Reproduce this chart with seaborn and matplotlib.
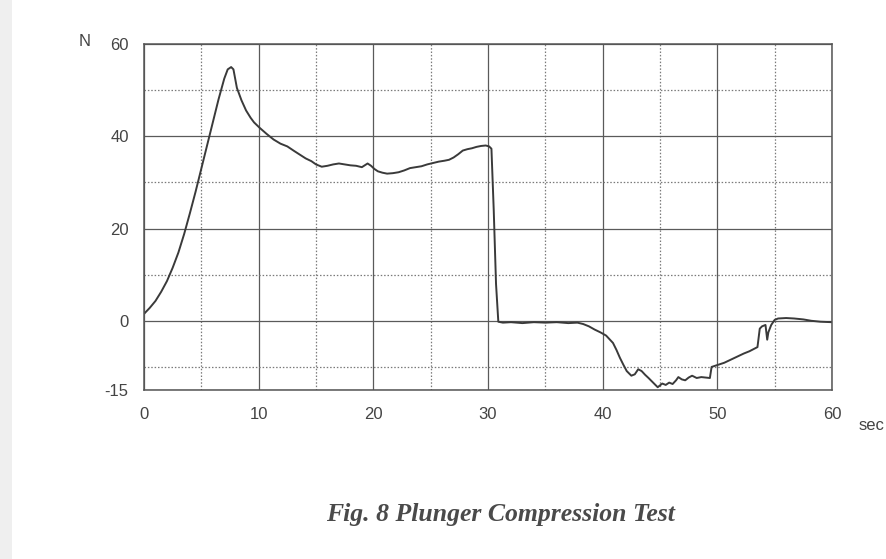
import matplotlib
matplotlib.use("Agg")
import matplotlib.pyplot as plt
import seaborn as sns
import pandas as pd
from matplotlib.patches import Rectangle

# ---- data ----
time_s = [0.0, 0.5, 1.0, 1.5, 2.0, 2.5, 3.0, 3.5, 4.0, 4.5, 5.0, 5.5, 6.0, 6.5,
          7.0, 7.3, 7.6, 7.8, 8.1, 8.5, 8.9, 9.3, 9.6, 10.1, 10.7, 11.3, 11.9,
          12.5, 13.1, 13.6, 14.1, 14.6, 15.0, 15.5, 16.0, 16.5, 17.0, 17.5,
          18.0, 18.5, 19.0, 19.5, 19.8, 20.1, 20.4, 20.8, 21.2, 21.7, 22.2,
          22.7, 23.2, 23.7, 24.2, 24.7, 25.2, 25.7, 26.2, 26.6, 27.0, 27.4,
          27.8, 28.2, 28.6, 29.0, 29.4, 29.8, 30.1, 30.3, 30.5, 30.7, 30.9,
          31.3, 32.0, 33.0, 34.0, 35.0, 36.0, 37.0, 37.8, 38.3, 38.8, 39.3,
          39.8, 40.3, 40.9, 41.2, 41.5, 41.8, 42.1, 42.5, 42.8, 43.1, 43.4,
          43.7, 44.0, 44.4, 44.8, 45.2, 45.5, 45.8, 46.1, 46.4, 46.6, 46.9,
          47.2, 47.5, 47.8, 48.2, 48.6, 49.0, 49.35, 49.5, 50.0, 50.6, 51.2,
          51.8, 52.3, 52.8, 53.2, 53.5, 53.7, 53.9, 54.2, 54.35, 54.45, 54.7,
          55.0, 55.3, 56.0, 56.7, 57.5, 58.2, 59.0, 60.0]
force_n = [1.5, 2.8, 4.3, 6.3, 8.6, 11.5, 14.8, 18.8, 23.3, 28.0, 33.0, 38.0,
           43.0, 48.0, 52.5, 54.5, 55.0, 54.5, 50.5, 47.8, 45.6, 44.0, 43.0,
           41.8, 40.5, 39.3, 38.4, 37.8, 36.8, 36.0, 35.2, 34.6, 33.9, 33.4,
           33.6, 33.9, 34.1, 33.9, 33.7, 33.6, 33.3, 34.1, 33.6, 32.9, 32.4,
           32.1, 31.9, 32.0, 32.2, 32.6, 33.1, 33.3, 33.5, 33.9, 34.2, 34.5,
           34.7, 34.9, 35.4, 36.1, 36.9, 37.2, 37.4, 37.7, 37.9, 38.0, 37.8,
           37.3, 24.0, 8.0, -0.2, -0.4, -0.3, -0.5, -0.3, -0.4, -0.3, -0.5,
           -0.4, -0.7, -1.2, -1.9, -2.5, -3.2, -4.8, -6.3, -8.0, -9.5, -10.9,
           -11.9, -11.6, -10.5, -10.9, -11.7, -12.4, -13.4, -14.4, -13.6,
           -13.9, -13.4, -13.7, -12.9, -12.2, -12.7, -12.9, -12.3, -11.9, -12.4,
           -12.2, -12.3, -12.4, -10.0, -9.6, -9.1, -8.4, -7.7, -7.1, -6.6, -6.1,
           -5.7, -1.7, -1.2, -0.9, -4.1, -2.5, -0.9, 0.2, 0.5, 0.6, 0.5, 0.3,
           0.0, -0.2, -0.3]

x_ticks = [0, 10, 20, 30, 40, 50, 60]
x_minor = [5, 15, 25, 35, 45, 55]
y_ticks = [-15, 0, 20, 40, 60]
y_minor = [-10, 10, 30, 50]
y_unit = "N"
x_unit = "sec"
caption = "Fig. 8 Plunger Compression Test"

df = pd.DataFrame({"t": time_s, "F": force_n})

sns.set_style("white")
plt.rcParams["font.family"] = ["Liberation Sans", "DejaVu Sans"]
plt.rcParams["axes.unicode_minus"] = False

fig = plt.figure(figsize=(8.86, 5.59), dpi=100)
fig.patch.set_facecolor("white")
# scan edge shading on the left
fig.patches.append(Rectangle((0, 0), 12 / 886, 1, transform=fig.transFigure,
                             facecolor="#efefef", edgecolor="none", zorder=0))

ax = fig.add_axes([144 / 886, 1 - 390 / 559, (832 - 144) / 886, (390 - 44) / 559])
sns.lineplot(data=df, x="t", y="F", ax=ax, color="#3a3a3a", linewidth=1.4,
             estimator=None, sort=False)

ax.set_xlim(0, 60)
ax.set_ylim(-15, 60)
ax.set_xticks(x_ticks)
ax.set_xticks(x_minor, minor=True)
ax.set_yticks(y_ticks)
ax.set_yticks(y_minor, minor=True)
ax.grid(which="major", color="#5a5a5a", linestyle="-", linewidth=0.9)
ax.grid(which="minor", color="#7a7a7a", linestyle=(0, (1.2, 1.5)), linewidth=0.9)
ax.set_axisbelow(True)
for s in ax.spines.values():
    s.set_color("#555555")
    s.set_linewidth(1.1)
ax.tick_params(which="both", length=0)
ax.tick_params(axis="y", pad=11, labelsize=12, labelcolor="#444444")
ax.tick_params(axis="x", pad=12, labelsize=12, labelcolor="#444444")
ax.set_xlabel("")
ax.set_ylabel("")

fig.text(85 / 886, 1 - 42 / 559, y_unit, fontsize=12, color="#444444",
         ha="center", va="center")
fig.text(872 / 886, 1 - 425 / 559, x_unit, fontsize=12, color="#444444",
         ha="center", va="center")
fig.text(500 / 886, 1 - 514 / 559, caption, fontsize=18.5, color="#4a4a4a",
         ha="center", va="center", fontstyle="italic", fontweight="bold",
         family=["Liberation Serif", "DejaVu Serif"])

fig.savefig("out.png", dpi=100)
